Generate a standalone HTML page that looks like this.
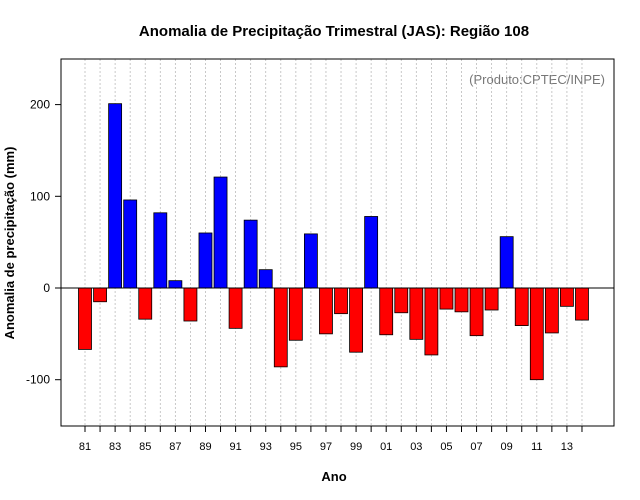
<!DOCTYPE html>
<html><head><meta charset="utf-8"><style>
body{margin:0;background:#fff;}
svg{display:block;font-family:"Liberation Sans","DejaVu Sans",sans-serif;}
</style></head><body>
<svg id="chart" width="640" height="500">
<text x="334" y="36" text-anchor="middle" font-size="15" font-weight="bold">Anomalia de Precipitação Trimestral (JAS): Região 108</text>
<text x="334" y="481" text-anchor="middle" font-size="13" font-weight="bold">Ano</text>
<text transform="translate(14,243) rotate(-90)" text-anchor="middle" font-size="13" font-weight="bold">Anomalia de precipitação (mm)</text>
<text x="605" y="84" text-anchor="end" font-size="13" fill="#777">(Produto:CPTEC/INPE)</text>
<g id="grid"></g><g id="bars"></g><g id="axes"></g>
<rect x="61" y="59" width="553" height="367" fill="none" stroke="#000"/>
</svg>
<script>
const years=["81","82","83","84","85","86","87","88","89","90","91","92","93","94","95","96","97","98","99","00","01","02","03","04","05","06","07","08","09","10","11","12","13","14"];
const values=[-67,-15,201,96,-34,82,8,-36,60,121,-44,74,20,-86,-57,59,-50,-28,-70,78,-51,-27,-56,-73,-23,-26,-52,-24,56,-41,-100,-49,-20,-35];
const yTicks=[-100,0,100,200];
const NS="http://www.w3.org/2000/svg";
const x=i=>85+i*15.06;
const y=v=>288-v*0.917;
function mk(t,a,p){const e=document.createElementNS(NS,t);for(const k in a)e.setAttribute(k,a[k]);p.appendChild(e);return e;}
const grid=document.getElementById('grid'),bars=document.getElementById('bars'),axes=document.getElementById('axes');
years.forEach((yr,i)=>{
  const g=mk('line',{x1:x(i),x2:x(i),y1:59,y2:426,stroke:'#bbb','stroke-dasharray':'2,2','stroke-width':0.8},grid);
  
  
  const v=values[i];
  const b=mk('rect',{x:x(i)-6.5,width:13,y:Math.min(y(v),y(0)),height:Math.abs(y(v)-y(0)),fill:v>=0?'#0000ff':'#ff0000',stroke:'#000','stroke-width':0.8},bars);
  
  
  const t=mk('line',{x1:x(i),x2:x(i),y1:426,y2:432,stroke:'#000'},axes);
  
  
  if(i%2===0){const l=mk('text',{x:x(i),y:450,'text-anchor':'middle','font-size':11},axes);l.textContent=yr;
  
  }
});
const z=mk('line',{x1:61,x2:614,y1:y(0),y2:y(0),stroke:'#000'},axes);


yTicks.forEach(v=>{
  const t=mk('line',{x1:55,x2:61,y1:y(v),y2:y(v),stroke:'#000'},axes);
  
  
  const l=mk('text',{x:50,y:y(v)+4,'text-anchor':'end','font-size':12},axes);l.textContent=v;
  
  
});
</script>
</body></html>
